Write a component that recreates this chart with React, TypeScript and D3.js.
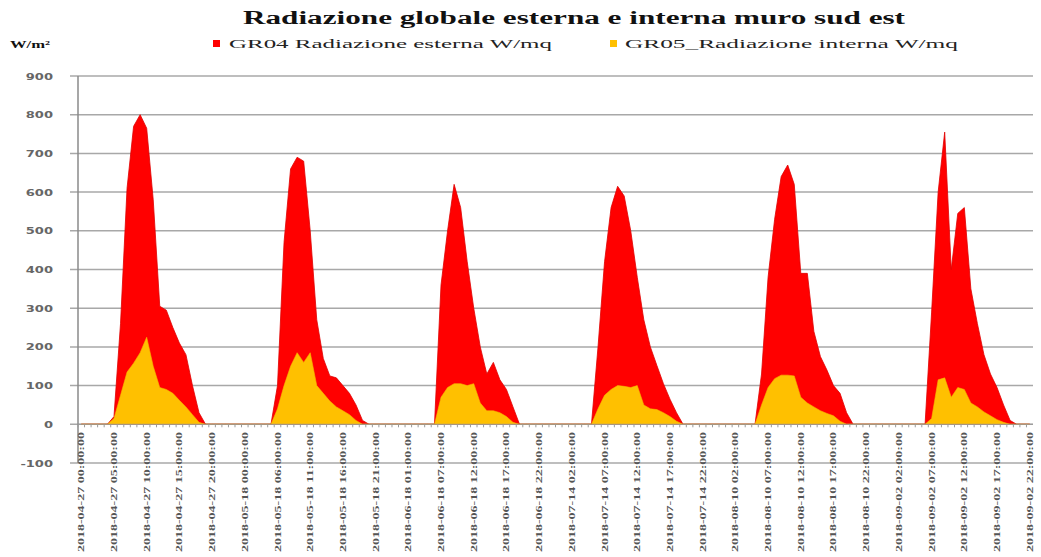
import React from "react";
import * as d3 from "d3";

// ---------- DATA ----------
const N_CATEGORIES = 146; // hourly samples on the category axis
const tickEvery = 5;
const tickLabels = [
  "2018-04-27 00:00:00", "2018-04-27 05:00:00", "2018-04-27 10:00:00", "2018-04-27 15:00:00", "2018-04-27 20:00:00",
  "2018-05-18 00:00:00", "2018-05-18 06:00:00", "2018-05-18 11:00:00", "2018-05-18 16:00:00", "2018-05-18 21:00:00",
  "2018-06-18 01:00:00", "2018-06-18 07:00:00", "2018-06-18 12:00:00", "2018-06-18 17:00:00", "2018-06-18 22:00:00",
  "2018-07-14 02:00:00", "2018-07-14 07:00:00", "2018-07-14 12:00:00", "2018-07-14 17:00:00", "2018-07-14 22:00:00",
  "2018-08-10 02:00:00", "2018-08-10 07:00:00", "2018-08-10 12:00:00", "2018-08-10 17:00:00", "2018-08-10 22:00:00",
  "2018-09-02 02:00:00", "2018-09-02 07:00:00", "2018-09-02 12:00:00", "2018-09-02 17:00:00", "2018-09-02 22:00:00",
];
const yTicks = [-100, 0, 100, 200, 300, 400, 500, 600, 700, 800, 900];

// day segments: first category index of each daily block
const dayStarts = [4, 29, 54, 78, 103, 129];

// GR04 Radiazione esterna W/mq
const gr04Day1 = [0, 20, 260, 610, 770, 800, 765, 580, 305, 295, 250, 210, 180, 100, 30, 0];
const gr04Day2 = [0, 100, 470, 660, 690, 680, 500, 270, 170, 125, 120, 100, 80, 50, 10, 0];
const gr04Day3 = [0, 360, 500, 620, 560, 420, 300, 200, 130, 160, 115, 90, 45, 0];
const gr04Day4 = [0, 200, 420, 560, 615, 590, 500, 380, 270, 200, 152, 105, 65, 30, 0];
const gr04Day5 = [0, 130, 380, 530, 640, 670, 620, 390, 390, 240, 175, 140, 100, 80, 30, 0];
const gr04Day6 = [0, 290, 600, 755, 400, 545, 560, 350, 260, 180, 130, 95, 50, 10, 0];

// GR05_Radiazione interna W/mq
const gr05Day1 = [0, 15, 75, 135, 158, 185, 225, 150, 95, 90, 80, 62, 45, 25, 5, 0];
const gr05Day2 = [0, 40, 100, 150, 185, 160, 185, 100, 80, 60, 45, 35, 25, 10, 0];
const gr05Day3 = [0, 70, 95, 105, 105, 100, 105, 55, 35, 35, 30, 20, 5, 0];
const gr05Day4 = [0, 40, 75, 90, 100, 98, 95, 100, 50, 40, 38, 30, 20, 8, 0];
const gr05Day5 = [0, 50, 95, 118, 127, 127, 125, 70, 55, 45, 35, 28, 22, 8, 0];
const gr05Day6 = [0, 15, 115, 120, 70, 95, 90, 55, 45, 32, 22, 12, 5, 0];

const gr04Days = [gr04Day1, gr04Day2, gr04Day3, gr04Day4, gr04Day5, gr04Day6];
const gr05Days = [gr05Day1, gr05Day2, gr05Day3, gr05Day4, gr05Day5, gr05Day6];

function buildSeries(days: number[][]): number[] {
  const s = new Array(N_CATEGORIES).fill(0);
  days.forEach((vals, d) => {
    vals.forEach((v, k) => {
      const idx = dayStarts[d] + k;
      if (idx < N_CATEGORIES) s[idx] = v;
    });
  });
  return s;
}

const gr04 = buildSeries(gr04Days);
const gr05 = buildSeries(gr05Days);

// ---------- LAYOUT ----------
const W = 1041;
const H = 557;
const plotLeft = 78;
const plotRight = 1033;
const plotTop = 76;
const plotBottom = 463;

export default function App() {
  const x = d3.scaleLinear().domain([-0.5, N_CATEGORIES - 0.5]).range([plotLeft, plotRight]);
  const y = d3.scaleLinear().domain([-100, 900]).range([plotBottom, plotTop]);

  const area = d3
    .area<number>()
    .x((_, i) => x(i))
    .y0(y(0))
    .y1((d) => y(d))
    .curve(d3.curveLinear);

  const idx = d3.range(N_CATEGORIES);
  const step = x(1) - x(0);

  return (
    <svg
      width={W}
      height={H}
      style={{ position: "absolute", left: 0, top: 0, background: "#fff" }}
    >
      <rect x={0} y={0} width={W} height={H} fill="#fff" />
      {/* Title */}
      <text
        x={243}
        y={24}
        fontFamily="'Liberation Serif', 'Times New Roman', serif"
        fontWeight="bold"
        fontSize={18}
        fill="#111"
        textLength={662}
        lengthAdjust="spacingAndGlyphs"
      >
        Radiazione globale esterna e interna muro sud est
      </text>
      {/* Unit */}
      <text
        x={10}
        y={48}
        fontFamily="'Liberation Serif', 'Times New Roman', serif"
        fontWeight="bold"
        fontSize={11}
        fill="#111"
        textLength={40}
        lengthAdjust="spacingAndGlyphs"
      >
        W/m²
      </text>
      {/* Legend */}
      <rect x={213} y={40} width={7} height={7} fill="#ff0000" />
      <text
        x={229}
        y={48}
        fontFamily="'Liberation Serif', 'Times New Roman', serif"
        fontSize={11.5}
        fill="#222"
        textLength={323}
        lengthAdjust="spacingAndGlyphs"
      >
        GR04 Radiazione esterna W/mq
      </text>
      <rect x={610} y={40} width={7} height={7} fill="#ffc000" />
      <text
        x={625}
        y={48}
        fontFamily="'Liberation Serif', 'Times New Roman', serif"
        fontSize={11.5}
        fill="#222"
        textLength={333}
        lengthAdjust="spacingAndGlyphs"
      >
        GR05_Radiazione interna W/mq
      </text>

      {/* Gridlines */}
      {yTicks.map((t) => (
        <line
          key={"g" + t}
          x1={plotLeft - 8}
          x2={plotRight}
          y1={y(t)}
          y2={y(t)}
          stroke="#a8a8a8"
          strokeWidth={1.5}
        />
      ))}

      {/* Areas */}
      <path d={area(gr04) || ""} fill="#ff0000" stroke="#e00000" strokeWidth={0.8} />
      <path d={area(gr05) || ""} fill="#ffc000" stroke="#f5b800" strokeWidth={0.6} />

      {/* Y axis */}
      <line x1={plotLeft} x2={plotLeft} y1={plotTop} y2={plotBottom} stroke="#8a8a8a" strokeWidth={1.5} />
      {yTicks.map((t) => (
        <text
          key={"yl" + t}
          transform={`translate(53,${y(t) + 3.5}) scale(1.45,1)`}
          textAnchor="end"
          fontFamily="'DejaVu Sans', Verdana, sans-serif"
          fontWeight="bold"
          fontSize={9}
          fill="#666"
        >
          {t}
        </text>
      ))}

      {/* Category axis at 0 */}
      <line x1={plotLeft} x2={plotRight} y1={y(0)} y2={y(0)} stroke="#9a9a9a" strokeWidth={1} />
      {idx.map((i) => (
        <line
          key={"ct" + i}
          x1={x(i) - step / 2}
          x2={x(i) - step / 2}
          y1={y(0)}
          y2={y(0) + 3}
          stroke="#9a9a9a"
          strokeWidth={1}
        />
      ))}

      {/* Category labels */}
      {tickLabels.map((lab, k) => {
        const i = k * tickEvery;
        return (
          <text
            key={"xl" + k}
            transform={`translate(${x(i)},432) rotate(-90)`}
            textAnchor="end"
            dominantBaseline="central"
            fontFamily="'Liberation Serif', 'Times New Roman', serif"
            fontWeight="bold"
            fontSize={9}
            fill="#555"
            textLength={120}
            lengthAdjust="spacingAndGlyphs"
          >
            {lab}
          </text>
        );
      })}
    </svg>
  );
}
